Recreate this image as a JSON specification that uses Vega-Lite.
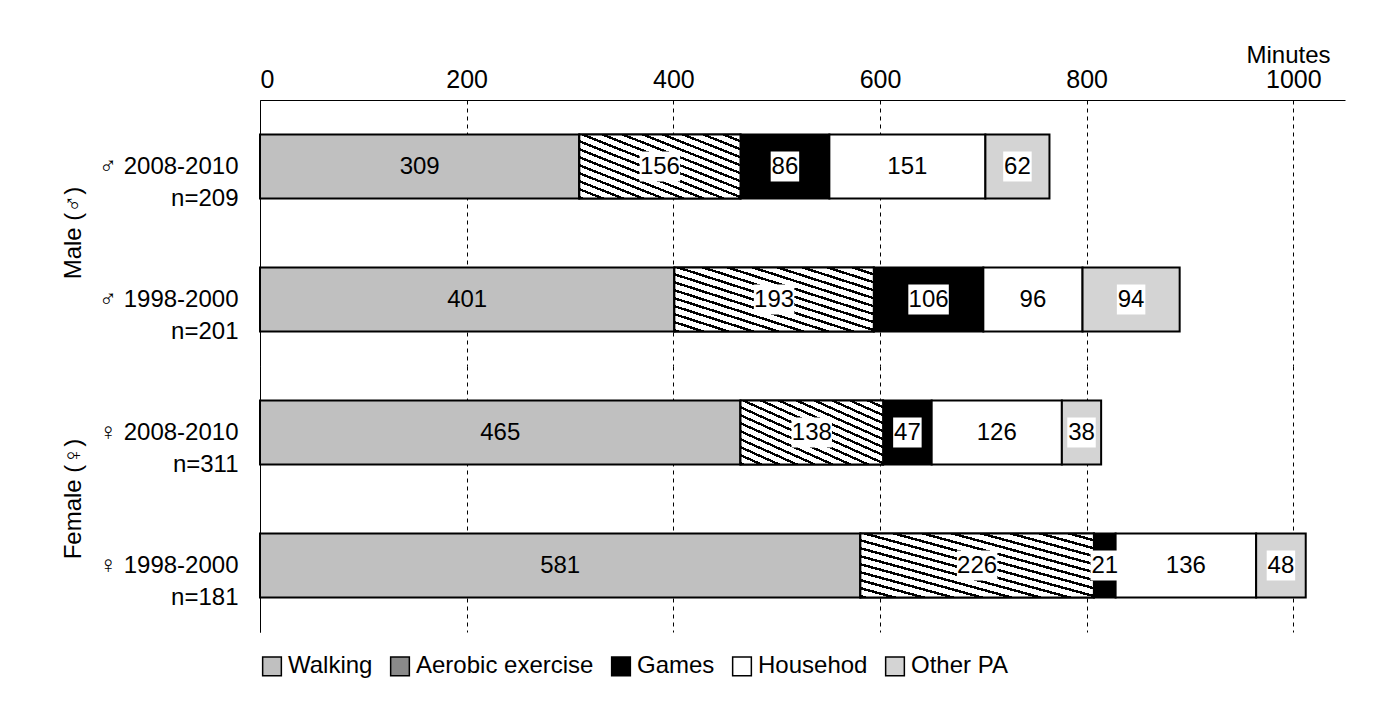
{
  "$schema": "https://vega.github.io/schema/vega-lite/v6.json",
  "background": "white",
  "padding": {"left": 62, "top": 43, "right": 5, "bottom": 5},
  "config": {
    "font": "Liberation Sans",
    "view": {"stroke": null},
    "axis": {"labelFont": "Liberation Sans", "titleFont": "Liberation Sans", "labelColor": "black", "titleColor": "black"},
    "facet": {"spacing": 0}
  },
  "data": {
    "values": [
      {"sex": "Male (♂)", "label": "♂ 2008-2010|n=209", "activity": "Walking", "order": 1, "value": 309},
      {"sex": "Male (♂)", "label": "♂ 2008-2010|n=209", "activity": "Aerobic exercise", "order": 2, "value": 156},
      {"sex": "Male (♂)", "label": "♂ 2008-2010|n=209", "activity": "Games", "order": 3, "value": 86},
      {"sex": "Male (♂)", "label": "♂ 2008-2010|n=209", "activity": "Househod", "order": 4, "value": 151},
      {"sex": "Male (♂)", "label": "♂ 2008-2010|n=209", "activity": "Other PA", "order": 5, "value": 62},
      {"sex": "Male (♂)", "label": "♂ 1998-2000|n=201", "activity": "Walking", "order": 1, "value": 401},
      {"sex": "Male (♂)", "label": "♂ 1998-2000|n=201", "activity": "Aerobic exercise", "order": 2, "value": 193},
      {"sex": "Male (♂)", "label": "♂ 1998-2000|n=201", "activity": "Games", "order": 3, "value": 106},
      {"sex": "Male (♂)", "label": "♂ 1998-2000|n=201", "activity": "Househod", "order": 4, "value": 96},
      {"sex": "Male (♂)", "label": "♂ 1998-2000|n=201", "activity": "Other PA", "order": 5, "value": 94},
      {"sex": "Female (♀)", "label": "♀ 2008-2010|n=311", "activity": "Walking", "order": 1, "value": 465},
      {"sex": "Female (♀)", "label": "♀ 2008-2010|n=311", "activity": "Aerobic exercise", "order": 2, "value": 138},
      {"sex": "Female (♀)", "label": "♀ 2008-2010|n=311", "activity": "Games", "order": 3, "value": 47},
      {"sex": "Female (♀)", "label": "♀ 2008-2010|n=311", "activity": "Househod", "order": 4, "value": 126},
      {"sex": "Female (♀)", "label": "♀ 2008-2010|n=311", "activity": "Other PA", "order": 5, "value": 38},
      {"sex": "Female (♀)", "label": "♀ 1998-2000|n=181", "activity": "Walking", "order": 1, "value": 581},
      {"sex": "Female (♀)", "label": "♀ 1998-2000|n=181", "activity": "Aerobic exercise", "order": 2, "value": 226},
      {"sex": "Female (♀)", "label": "♀ 1998-2000|n=181", "activity": "Games", "order": 3, "value": 21},
      {"sex": "Female (♀)", "label": "♀ 1998-2000|n=181", "activity": "Househod", "order": 4, "value": 136},
      {"sex": "Female (♀)", "label": "♀ 1998-2000|n=181", "activity": "Other PA", "order": 5, "value": 48}
    ]
  },
  "transform": [
    {"stack": "value", "groupby": ["label"], "sort": [{"field": "order"}], "as": ["x0", "x1"]},
    {"calculate": "(datum.x0 + datum.x1) / 2", "as": "mid"}
  ],
  "facet": {
    "row": {
      "field": "sex", "type": "nominal", "sort": ["Male (♂)", "Female (♀)"], "title": null,
      "header": {"labelAngle": -90, "labelOrient": "left", "labelFontSize": 24, "labelFont": "Liberation Sans", "labelPadding": 0}
    }
  },
  "resolve": {"scale": {"y": "independent"}},
  "spec": {
    "width": 1085,
    "height": 266,
    "encoding": {
      "y": {
        "field": "label", "type": "nominal", "sort": null, "title": null,
        "scale": {"paddingInner": 0.52, "paddingOuter": 0.26},
        "axis": {"labelExpr": "split(datum.label, '|')", "labelFontSize": 24, "labelPadding": 22, "ticks": false, "domainColor": "black", "labelLineHeight": 32}
      }
    },
    "layer": [
      {
        "mark": {"type": "bar", "stroke": "black", "strokeWidth": 2},
        "encoding": {
          "x": {
            "field": "x0", "type": "quantitative",
            "scale": {"domain": [0, 1050], "nice": false},
            "axis": {"orient": "top", "title": "Minutes", "titleAnchor": "end", "titleAlign": "right", "titleFontSize": 24, "titleFontWeight": "normal", "titlePadding": 0, "titleX": 1070, "labelFontSize": 25, "format": "d", "values": [0, 200, 400, 600, 800, 1000], "ticks": false, "labelPadding": 8, "domainColor": "black", "grid": true, "gridColor": "black", "gridDash": [4, 4], "gridOpacity": 1}
          },
          "x2": {"field": "x1"},
          "color": {
            "field": "activity", "type": "nominal",
            "sort": ["Walking", "Aerobic exercise", "Games", "Househod", "Other PA"],
            "scale": {"domain": ["Walking", "Aerobic exercise", "Games", "Househod", "Other PA"], "range": ["#c0c0c0", "#8a8a8a", "#000000", "#ffffff", "#d4d4d4"]},
            "legend": {"orient": "bottom", "direction": "horizontal", "title": null, "labelFontSize": 24, "labelLimit": 0, "symbolType": "square", "symbolSize": 350, "symbolStrokeColor": "black", "symbolStrokeWidth": 1.5, "columnPadding": 14, "labelColor": "black", "offset": 22}
          }
        }
      },
      {
        "transform": [{"filter": "datum.activity == 'Aerobic exercise'"}],
        "mark": {
          "type": "bar", "stroke": "black", "strokeWidth": 2,
          "fill": {
            "gradient": "linear", "x1": 0, "y1": 1, "x2": 1, "y2": 0,
            "stops": [
              {"offset": 0, "color": "black"}, {"offset": 0.02, "color": "black"}, {"offset": 0.02, "color": "white"}, {"offset": 0.0625, "color": "white"},
              {"offset": 0.0625, "color": "black"}, {"offset": 0.0825, "color": "black"}, {"offset": 0.0825, "color": "white"}, {"offset": 0.125, "color": "white"},
              {"offset": 0.125, "color": "black"}, {"offset": 0.145, "color": "black"}, {"offset": 0.145, "color": "white"}, {"offset": 0.1875, "color": "white"},
              {"offset": 0.1875, "color": "black"}, {"offset": 0.2075, "color": "black"}, {"offset": 0.2075, "color": "white"}, {"offset": 0.25, "color": "white"},
              {"offset": 0.25, "color": "black"}, {"offset": 0.27, "color": "black"}, {"offset": 0.27, "color": "white"}, {"offset": 0.3125, "color": "white"},
              {"offset": 0.3125, "color": "black"}, {"offset": 0.3325, "color": "black"}, {"offset": 0.3325, "color": "white"}, {"offset": 0.375, "color": "white"},
              {"offset": 0.375, "color": "black"}, {"offset": 0.395, "color": "black"}, {"offset": 0.395, "color": "white"}, {"offset": 0.4375, "color": "white"},
              {"offset": 0.4375, "color": "black"}, {"offset": 0.4575, "color": "black"}, {"offset": 0.4575, "color": "white"}, {"offset": 0.5, "color": "white"},
              {"offset": 0.5, "color": "black"}, {"offset": 0.52, "color": "black"}, {"offset": 0.52, "color": "white"}, {"offset": 0.5625, "color": "white"},
              {"offset": 0.5625, "color": "black"}, {"offset": 0.5825, "color": "black"}, {"offset": 0.5825, "color": "white"}, {"offset": 0.625, "color": "white"},
              {"offset": 0.625, "color": "black"}, {"offset": 0.645, "color": "black"}, {"offset": 0.645, "color": "white"}, {"offset": 0.6875, "color": "white"},
              {"offset": 0.6875, "color": "black"}, {"offset": 0.7075, "color": "black"}, {"offset": 0.7075, "color": "white"}, {"offset": 0.75, "color": "white"},
              {"offset": 0.75, "color": "black"}, {"offset": 0.77, "color": "black"}, {"offset": 0.77, "color": "white"}, {"offset": 0.8125, "color": "white"},
              {"offset": 0.8125, "color": "black"}, {"offset": 0.8325, "color": "black"}, {"offset": 0.8325, "color": "white"}, {"offset": 0.875, "color": "white"},
              {"offset": 0.875, "color": "black"}, {"offset": 0.895, "color": "black"}, {"offset": 0.895, "color": "white"}, {"offset": 0.9375, "color": "white"},
              {"offset": 0.9375, "color": "black"}, {"offset": 0.9575, "color": "black"}, {"offset": 0.9575, "color": "white"}, {"offset": 1, "color": "white"}
            ]
          }
        },
        "encoding": {"x": {"field": "x0", "type": "quantitative"}, "x2": {"field": "x1"}}
      },
      {
        "transform": [{"filter": "datum.activity != 'Walking' && datum.activity != 'Househod'"}],
        "mark": {"type": "point", "filled": true, "fill": "white", "strokeWidth": 0, "size": 900, "opacity": 1, "zindex": 1},
        "encoding": {
          "x": {"field": "mid", "type": "quantitative"},
          "shape": {"condition": {"test": "datum.value >= 100", "value": "M-1.35,-1H1.35V1H-1.35Z"}, "value": "M-0.95,-1H0.95V1H-0.95Z"}
        }
      },
      {
        "mark": {"type": "text", "fontSize": 24, "color": "black", "zindex": 2},
        "encoding": {"x": {"field": "mid", "type": "quantitative"}, "text": {"field": "value", "type": "quantitative"}}
      }
    ]
  }
}
